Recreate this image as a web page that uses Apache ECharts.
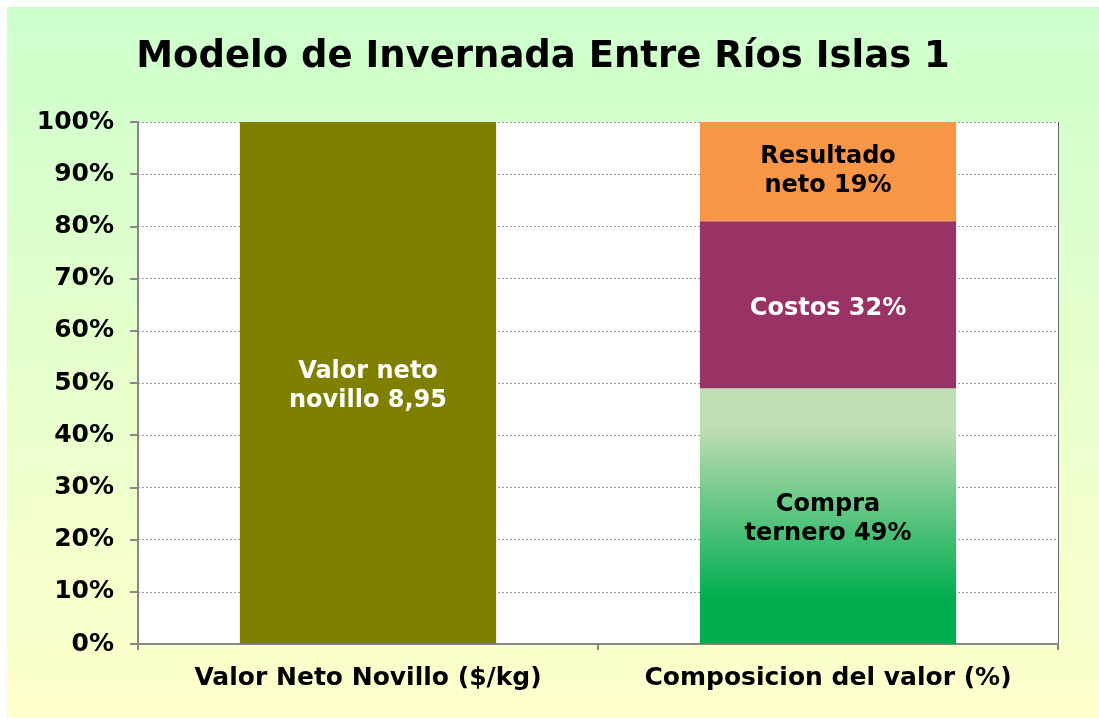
<!DOCTYPE html>
<html>
<head>
<meta charset="utf-8">
<script src="https://cdn.jsdelivr.net/npm/echarts@6/dist/echarts.min.js"></script>
<style>
  html, body { margin: 0; padding: 0; background: #ffffff; }
  #chart { position: absolute; left: 7px; top: 7px; width: 1092px; height: 711px; }
</style>
</head>
<body>
<div id="chart"></div>
<script>
// Categories on the x axis
const categories = ['Valor Neto Novillo ($/kg)', 'Composicion del valor (%)'];
// Net steer value in $/kg (shown as the full 100% bar)
const valorNetoNovillo = 8.95;
// Composition of the value, in percent
const compraTernero = 49;
const costos = 32;
const resultadoNeto = 19;
// Y axis range; tick labels are 0%..100% via the axis formatter
const yTicks = { min: 0, max: 100, interval: 10 };

const FONT = 'DejaVu Sans';
const valorPct = valorNetoNovillo / valorNetoNovillo * 100;

const chart = echarts.init(document.getElementById('chart'));

function segLabel(text, color, dy) {
  return {
    show: true,
    position: 'inside',
    formatter: text,
    color: color,
    fontFamily: FONT,
    fontWeight: 'bold',
    fontSize: 24,
    lineHeight: 29,
    offset: [0, dy]
  };
}

chart.setOption({
  backgroundColor: {
    type: 'linear', x: 0, y: 0, x2: 0, y2: 1,
    colorStops: [
      { offset: 0, color: '#CCFFCC' },
      { offset: 1, color: '#FFFFCC' }
    ]
  },
  title: {
    text: 'Modelo de Invernada Entre Ríos Islas 1',
    left: 531,
    textAlign: 'center',
    top: 27,
    textStyle: { fontFamily: FONT, fontWeight: 'bold', fontSize: 37, color: '#000' }
  },
  grid: { left: 131, top: 115, right: 41, bottom: 74, show: true, backgroundColor: '#ffffff', borderWidth: 0 },
  xAxis: {
    type: 'category',
    data: categories,
    axisLine: { lineStyle: { color: '#888888', width: 2 } },
    axisTick: { show: true, interval: 0, length: 6, lineStyle: { color: '#888888', width: 2 } },
    axisLabel: { interval: 0, hideOverlap: false, fontFamily: FONT, fontWeight: 'bold', fontSize: 25, color: '#000', margin: 22 }
  },
  yAxis: [{
    type: 'value',
    min: yTicks.min, max: yTicks.max, interval: yTicks.interval,
    axisLine: { show: true, lineStyle: { color: '#888888', width: 2 } },
    axisTick: { show: true, length: 8, lineStyle: { color: '#888888', width: 2 } },
    splitLine: { show: true, lineStyle: { color: '#999999', type: [2, 2], width: 1 } },
    axisLabel: { formatter: '{value}%', fontFamily: FONT, fontWeight: 'bold', fontSize: 25, color: '#000', margin: 24, padding: [5, 0, 0, 0] }
  }, {
    type: 'value',
    position: 'right',
    min: yTicks.min, max: yTicks.max, interval: yTicks.interval,
    axisLine: { show: true, lineStyle: { color: '#666666', width: 1 } },
    axisTick: { show: false },
    splitLine: { show: false },
    axisLabel: { show: false }
  }],
  series: [
    {
      name: 'Valor neto',
      type: 'bar', stack: 'total', barWidth: '55.7%',
      data: [valorPct, '-'],
      itemStyle: { color: '#808000' },
      label: segLabel('Valor neto\nnovillo ' + valorNetoNovillo.toFixed(2).replace('.', ','), '#ffffff', 3)
    },
    {
      name: 'Compra ternero',
      type: 'bar', stack: 'total',
      data: ['-', compraTernero],
      itemStyle: {
        color: {
          type: 'linear', x: 0, y: 0, x2: 0, y2: 1,
          colorStops: [
            { offset: 0, color: '#C0DEB4' },
            { offset: 0.15, color: '#C0DEB4' },
            { offset: 0.82, color: '#00AD4F' },
            { offset: 1, color: '#00AD4F' }
          ]
        }
      },
      label: segLabel('Compra\nternero ' + compraTernero + '%', '#000000', 3)
    },
    {
      name: 'Costos',
      type: 'bar', stack: 'total',
      data: ['-', costos],
      itemStyle: { color: '#993366' },
      label: segLabel('Costos ' + costos + '%', '#ffffff', 4)
    },
    {
      name: 'Resultado neto',
      type: 'bar', stack: 'total',
      data: ['-', resultadoNeto],
      itemStyle: { color: '#F79646' },
      label: segLabel('Resultado\nneto ' + resultadoNeto + '%', '#000000', 0)
    }
  ]
});
</script>
</body>
</html>
